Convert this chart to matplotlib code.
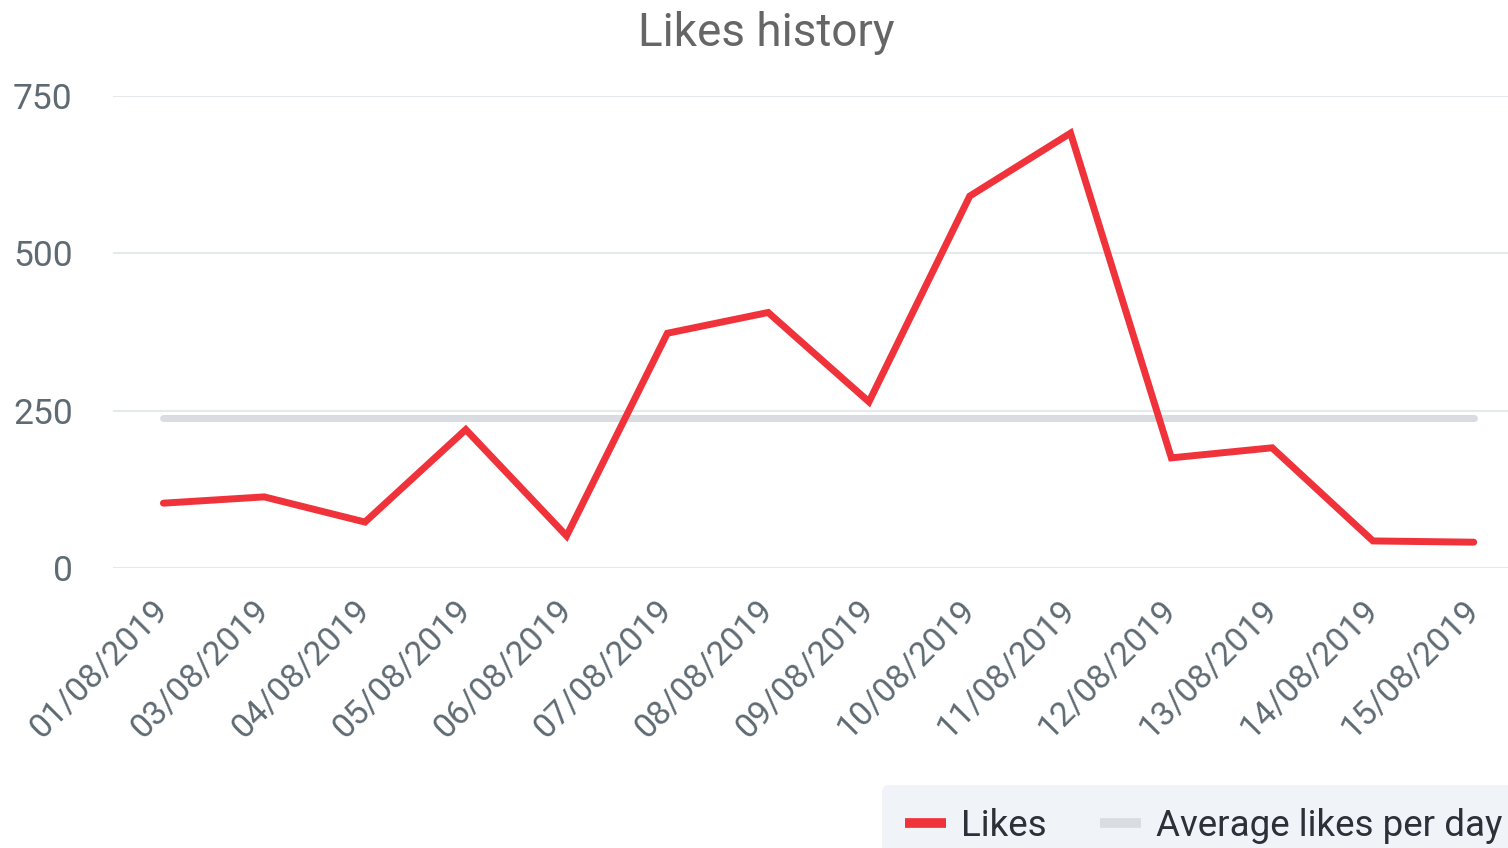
import matplotlib
matplotlib.use('agg')
import matplotlib.pyplot as plt

dates = ["01/08/2019", "03/08/2019", "04/08/2019", "05/08/2019", "06/08/2019",
         "07/08/2019", "08/08/2019", "09/08/2019", "10/08/2019", "11/08/2019",
         "12/08/2019", "13/08/2019", "14/08/2019", "15/08/2019"]
likes = [103, 113, 73, 220, 51, 373, 406, 264, 591, 691, 175, 191, 43, 41]
average_likes = 238
y_ticks = [0, 250, 500, 750]

plt.rcParams['font.family'] = ['Roboto', 'DejaVu Sans']

fig = plt.figure(figsize=(15.08, 8.48), dpi=100)
ax = fig.add_axes([113 / 1508, 1 - 568 / 848, 1 - 113 / 1508, (568 - 96) / 848])

x = list(range(len(dates)))
ax.plot(x, likes, color='#f0323a', linewidth=5, solid_joinstyle='miter',
        solid_capstyle='round', label='Likes', zorder=3, clip_on=False)
ax.plot([x[0], x[-1]], [average_likes, average_likes], color='#d9dce0', linewidth=5,
        solid_capstyle='round', label='Average likes per day', zorder=2)

ax.set_xlim(-0.5, len(dates) - 1 + 0.34)
ax.set_ylim(0, 750)
ax.set_yticks(y_ticks)
ax.set_xticks(x)
ax.set_xticklabels(dates, rotation=45, ha='right', va='center', rotation_mode='anchor',
                   fontsize=24.5)

ax.grid(axis='y', color='#e6e9ec', linewidth=1.5)
ax.set_axisbelow(True)
for s in ax.spines.values():
    s.set_visible(False)
ax.tick_params(axis='both', length=0, labelcolor='#5f6b73')
ax.tick_params(axis='y', pad=29, labelsize=25.5)
ax.tick_params(axis='x', pad=27)

fig.text(766 / 1508, 1 - 33 / 848, 'Likes history', ha='center', va='center',
         fontsize=33, color='#666666')

leg = ax.legend(loc='upper left', bbox_to_anchor=(882 / 1508, 1 - 785 / 848),
                bbox_transform=fig.transFigure, ncol=2, fontsize=26.5, frameon=True,
                fancybox=True, facecolor='#f0f3f8', edgecolor='none', framealpha=1,
                handlelength=1.12, handletextpad=0.4, columnspacing=1.45,
                borderpad=0.62, borderaxespad=0)
for h in leg.get_lines():
    h.set_linewidth(7)
    h.set_solid_capstyle('butt')
for t in leg.get_texts():
    t.set_color('#2d3038')

fig.savefig('out.png', dpi=100)
